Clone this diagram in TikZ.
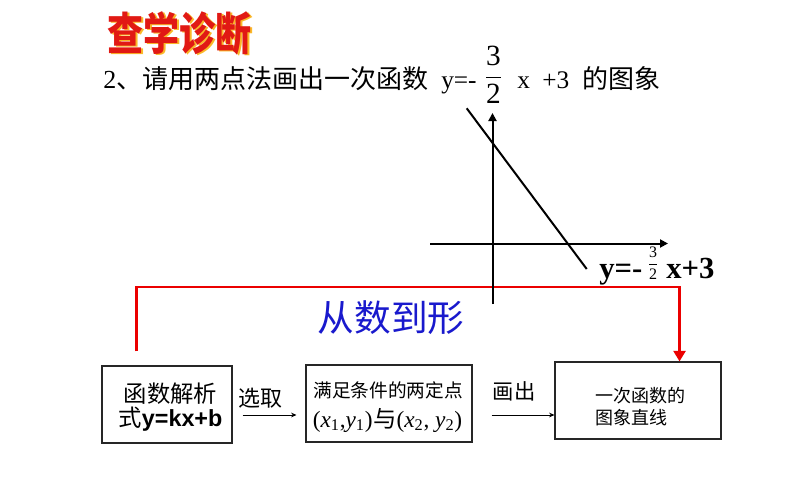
\documentclass[tikz,border=0pt]{standalone}
\usepackage{fontspec}
\usepackage{amsmath}
\usepackage{graphicx}
\setmainfont{Liberation Serif}
\newfontfamily\cjk{Noto Sans CJK SC}
\newfontfamily\arialf{Liberation Sans}
\usetikzlibrary{arrows.meta,calc}
\definecolor{myred}{RGB}{235,0,0}
\definecolor{myblue}{RGB}{25,25,205}
\definecolor{titlered}{RGB}{225,25,20}
\definecolor{titleor}{RGB}{250,185,40}
\tikzset{
  box/.style={draw=black!85, line width=0.8pt, inner sep=0pt, minimum height=57.75pt},
  txt/.style={inner sep=0pt, anchor=base},
  axis/.style={line width=1.5pt, -{Triangle[length=6pt,width=6pt]}},
  graphline/.style={line width=1.5pt},
  redline/.style={draw=myred, line width=2.2pt, line join=miter, -{Triangle[length=8pt,width=9pt]}},
  thinarr/.style={line width=0.6pt, -{Stealth[length=4pt,width=3.5pt]}}
}
\begin{document}
\begin{tikzpicture}[x=0.75pt,y=-0.75pt]
\path[use as bounding box, fill=white] (0,0) rectangle (794,496);

% title
\node[text=titleor] (titleshadow) at (181.5,34.5) {\cjk\bfseries\fontsize{27}{30}\selectfont\scalebox{1}[1.25]{查学诊断}};
\node[text=titlered] (title) at (180,33) {\cjk\bfseries\fontsize{27}{30}\selectfont\scalebox{1}[1.25]{查学诊断}};

% subtitle
\node[txt, anchor=base west] (sub1) at (103,89) {\fontsize{19.5}{22}\selectfont 2{\cjk 、请用两点法画出一次函数}};
\node[txt, anchor=base west] (sub2) at (441,89) {\fontsize{19}{22}\selectfont y=-};
\node[inner sep=0pt] (subfrac) at (493.5,75) {\fontsize{22}{26}\selectfont$\dfrac{\text{3}}{\text{2}}$};
\node[txt, anchor=base west] (sub3) at (517,89) {\fontsize{19}{22}\selectfont x};
\node[txt, anchor=base west] (sub4) at (542,89) {\fontsize{19}{22}\selectfont +3};
\node[txt, anchor=base west] (sub5) at (582,89) {\cjk\fontsize{19.5}{22}\selectfont 的图象};

% boxes and red path
\coordinate (rc) at (400,287);
\node[box, minimum width=97.5pt] (lb) at (167,404.5) {};
\node[box, minimum width=124.5pt] (mb) at (389,403.5) {};
\node[box, minimum width=124.5pt] (rb) at (638,400.5) {};
\coordinate (rs) at ($(lb.north west)+(35,-14)$);
\coordinate (re) at ($(rb.north east)+(-42,0)$);
\draw[redline] (rs) |- (rc) -| (re);

% graph
\coordinate (O) at (492.5,243.5);
\coordinate (ybot) at (492.5,304);
\coordinate (ytop) at (492.5,113);
\coordinate (xleft) at (430,243.5);
\coordinate (xright) at (668,243.5);
\coordinate (la) at (466.7,108.3);
\coordinate (lbend) at (586.7,269);
\draw[axis] (ybot) -- (ytop);
\draw[axis] (xleft) -- (xright);
\draw[graphline] (la) -- (lbend);

% graph label
\node[txt, anchor=base west] (gl1) at (599,278) {\fontsize{23}{26}\selectfont\bfseries y=-};
\node[inner sep=0pt] (glfrac) at (653,263) {\fontsize{12}{14}\selectfont$\dfrac{\text{3}}{\text{2}}$};
\node[txt, anchor=base west] (gl2) at (666,278) {\fontsize{23}{26}\selectfont\bfseries x+3};

% blue heading
\node[text=myblue] (cong) at (391,317.5) {\cjk\fontsize{27.5}{30}\selectfont 从数到形};

% left box text
\node[txt] (lbt1) at (170.5,402) {\cjk\fontsize{17.5}{20}\selectfont 函数解析};
\node[txt] (lbt2) at (170.5,426) {\fontsize{17.5}{20}\selectfont{\cjk 式}{\arialf\bfseries y=kx+b}};

% middle box text
\node[txt] (mbt1) at (388,397) {\cjk\fontsize{14}{16}\selectfont 满足条件的两定点};
\node[txt] (mbt2) at (387.5,427) {\fontsize{17.5}{19}\selectfont(\textit{x}\textsubscript{1},\textit{y}\textsubscript{1})\hspace{0.5pt}{\cjk\fontsize{17.5}{19}\selectfont 与}(\textit{x}\textsubscript{2}, \textit{y}\textsubscript{2})};

% right box text
\node[txt, anchor=base west] (rbt1) at (595,402) {\cjk\fontsize{13.5}{16}\selectfont 一次函数的};
\node[txt, anchor=base west] (rbt2) at (595,424) {\cjk\fontsize{13.5}{16}\selectfont 图象直线};

% arrow labels
\node (xq) at (260.5,398.5) {\cjk\fontsize{16.5}{18}\selectfont 选取};
\node (hc) at (514,391.5) {\cjk\fontsize{16}{18}\selectfont 画出};

% connectors
\coordinate (a1) at ($(lb.east)+(10,10.5)$);
\draw[thinarr, shorten >=6.75pt] (a1) -- (a1 -| mb.west);
\coordinate (a2) at ($(mb.east)+(19,11.5)$);
\draw[thinarr] (a2) -- (a2 -| rb.west);
\end{tikzpicture}
\end{document}
